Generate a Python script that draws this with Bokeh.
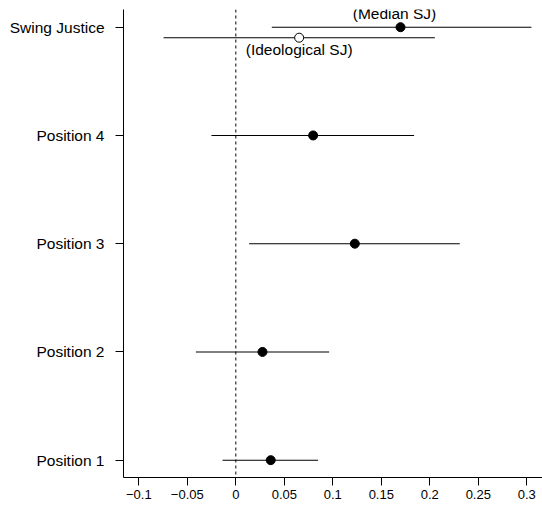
from bokeh.plotting import figure
from bokeh.models import Range1d, FixedTicker, Span, ColumnDataSource
from bokeh.embed import file_html
from bokeh.resources import INLINE
from bokeh.core.properties import value

# ---- data ----
labels = ["Position 1", "Position 2", "Position 3", "Position 4", "Swing Justice"]
estimates = [0.036, 0.0275, 0.1227, 0.0797, 0.1698]
lower = [-0.0137, -0.0412, 0.0137, -0.0251, 0.0371]
upper = [0.0848, 0.0962, 0.2309, 0.1838, 0.3048]

ideo_estimate = [0.0653]
ideo_lower = [-0.0745]
ideo_upper = [0.2052]

x_ticks = [-0.1, -0.05, 0, 0.05, 0.1, 0.15, 0.2, 0.25, 0.3]
x_tick_labels = ["\u22120.1", "\u22120.05", "0", "0.05", "0.1", "0.15", "0.2", "0.25", "0.3"]

ypos = [i + 1 for i in range(len(labels))]
ideo_y = [ypos[-1] - 0.097]

FONT = "Liberation Sans"

p = figure(width=542, height=506, output_backend="svg", toolbar_location=None,
           x_range=Range1d(-0.1158, 0.3162), y_range=Range1d(0.840, 5.1635),
           min_border_left=123, min_border_right=0, min_border_top=9, min_border_bottom=29)
p.outline_line_color = None
p.grid.visible = False
p.background_fill_color = "white"
p.border_fill_color = "white"

# axes
xa = p.xaxis[0]
xa.ticker = FixedTicker(ticks=x_ticks)
xa.major_label_overrides = {t: s for t, s in zip(x_ticks, x_tick_labels)}
xa.major_tick_out = 8
xa.major_tick_in = 0
xa.minor_tick_out = 0
xa.minor_tick_in = 0
xa.major_label_standoff = 4
xa.major_label_text_font = FONT
xa.major_label_text_font_size = "13px"
xa.major_label_text_color = "black"
xa.axis_line_color = "black"
xa.major_tick_line_color = "black"

ya = p.yaxis[0]
ya.ticker = FixedTicker(ticks=ypos)
ya.major_label_overrides = {y: l for y, l in zip(ypos, labels)}
ya.major_tick_out = 8
ya.major_tick_in = 0
ya.minor_tick_out = 0
ya.minor_tick_in = 0
ya.major_label_standoff = 11
ya.major_label_text_font = FONT
ya.major_label_text_font_size = "15.5px"
ya.major_label_text_color = "black"
ya.axis_line_color = "black"
ya.major_tick_line_color = "black"

# zero reference line
p.add_layout(Span(location=0, dimension="height", line_color="black",
                  line_dash="3 3", line_width=1))

src = ColumnDataSource(dict(y=ypos, est=estimates, lo=lower, hi=upper))
p.segment(x0="lo", x1="hi", y0="y", y1="y", source=src, line_color="black", line_width=1.1)
p.scatter(x="est", y="y", source=src, size=9, fill_color="black", line_color="black")

isrc = ColumnDataSource(dict(y=ideo_y, est=ideo_estimate, lo=ideo_lower, hi=ideo_upper))
p.segment(x0="lo", x1="hi", y0="y", y1="y", source=isrc, line_color="black", line_width=1.1)
p.scatter(x="est", y="y", source=isrc, size=9, fill_color="white", line_color="black", line_width=1)

# labels
p.text(x=[estimates[-1]], y=[ypos[-1]], text=["(Median SJ)"], x_offset=-6, y_offset=-14,
       text_align="center", text_baseline="middle", text_font=value(FONT),
       text_font_size="15.5px", text_color="black")
p.text(x=ideo_estimate, y=ideo_y, text=["(Ideological SJ)"], y_offset=12,
       text_align="center", text_baseline="middle", text_font=value(FONT),
       text_font_size="15.5px", text_color="black")

open("out.html", "w").write(file_html(p, INLINE))
